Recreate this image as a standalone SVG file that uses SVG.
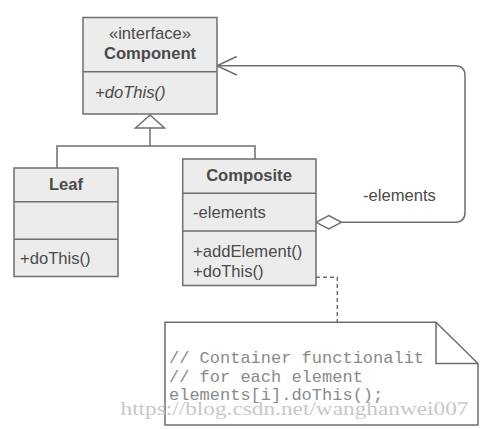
<svg xmlns="http://www.w3.org/2000/svg" width="481" height="429" viewBox="0 0 481 429">
<style>
.box{fill:#ececec;stroke:#6e6e6e;stroke-width:1.5}
.ln{fill:none;stroke:#6e6e6e;stroke-width:1.5}
.t{font-family:"Liberation Sans",Arial,sans-serif;font-size:16.6px;fill:#4a4a4a}
.b{font-weight:bold;text-anchor:middle}
.code{font-family:"Liberation Mono","Courier New",monospace;font-size:17px;fill:#8a8a8a}
.wm{font-family:"Liberation Serif","Times New Roman",serif;font-size:19px;fill:#c8c8c8}
</style>
<defs>
<clipPath id="noteclip"><rect x="165" y="322" width="260" height="103"/></clipPath>
</defs>
<g id="connectors">
<polygon class="ln" points="150,115 135.5,128 164.5,128" fill="#fff"/>
<polyline class="ln" points="150,128 150,146"/>
<polyline class="ln" points="57,168 57,146 255,146 255,159"/>
<path class="ln" d="M341.5,222.3 H455 Q465,222.3 465,212.3 V75.7 Q465,65.7 455,65.7 H217"/>
<polyline class="ln" points="236.7,56.5 217,65.7 236.7,75"/>
<polygon points="316,222.3 328.8,215.5 341.5,222.3 328.8,229" fill="#fff" stroke="#6e6e6e" stroke-width="1.5"/>
<text class="t" x="363" y="201">-elements</text>
<polyline class="ln" points="316,277.3 337.3,277.3 337.3,322" stroke-dasharray="4,3"/>
</g>
<g id="component">
<rect class="box" x="83" y="17.5" width="134" height="96.5"/>
<line class="ln" x1="83" y1="71.7" x2="217" y2="71.7"/>
<text class="t" x="150" y="38.5" text-anchor="middle">«interface»</text>
<text class="t b" x="150" y="58.5">Component</text>
<text class="t" x="95" y="97.5" font-style="italic">+doThis()</text>
</g>
<g id="leaf">
<rect class="box" x="14" y="168" width="104" height="108.5"/>
<line class="ln" x1="14" y1="201.7" x2="118" y2="201.7"/>
<line class="ln" x1="14" y1="239.3" x2="118" y2="239.3"/>
<text class="t b" x="66" y="189.5">Leaf</text>
<text class="t" x="20" y="263.5">+doThis()</text>
</g>
<g id="composite">
<rect class="box" x="182.7" y="159" width="133.3" height="126.5"/>
<line class="ln" x1="182.7" y1="193.3" x2="316" y2="193.3"/>
<line class="ln" x1="182.7" y1="231" x2="316" y2="231"/>
<text class="t b" x="249" y="180.5">Composite</text>
<text class="t" x="193" y="217.5">-elements</text>
<text class="t" x="193" y="257">+addElement()</text>
<text class="t" x="193" y="277">+doThis()</text>
</g>
<g id="note">
<polygon points="165,322.3 436,322.3 478,363.5 478,425 165,425" fill="#fff" stroke="#6e6e6e" stroke-width="1.5"/>
<polyline class="ln" points="436,322.3 436,363.5 478,363.5"/>
<g clip-path="url(#noteclip)">
<text class="code" x="169" y="362.5">// Container functionality</text>
</g>
<text class="code" x="169" y="381.5">// for each element</text>
<text class="code" x="169" y="400">elements[i].doThis();</text>
</g>
<text class="wm" x="120.5" y="415" textLength="348" lengthAdjust="spacingAndGlyphs">https://blog.csdn.net/wanghanwei007</text>
</svg>
